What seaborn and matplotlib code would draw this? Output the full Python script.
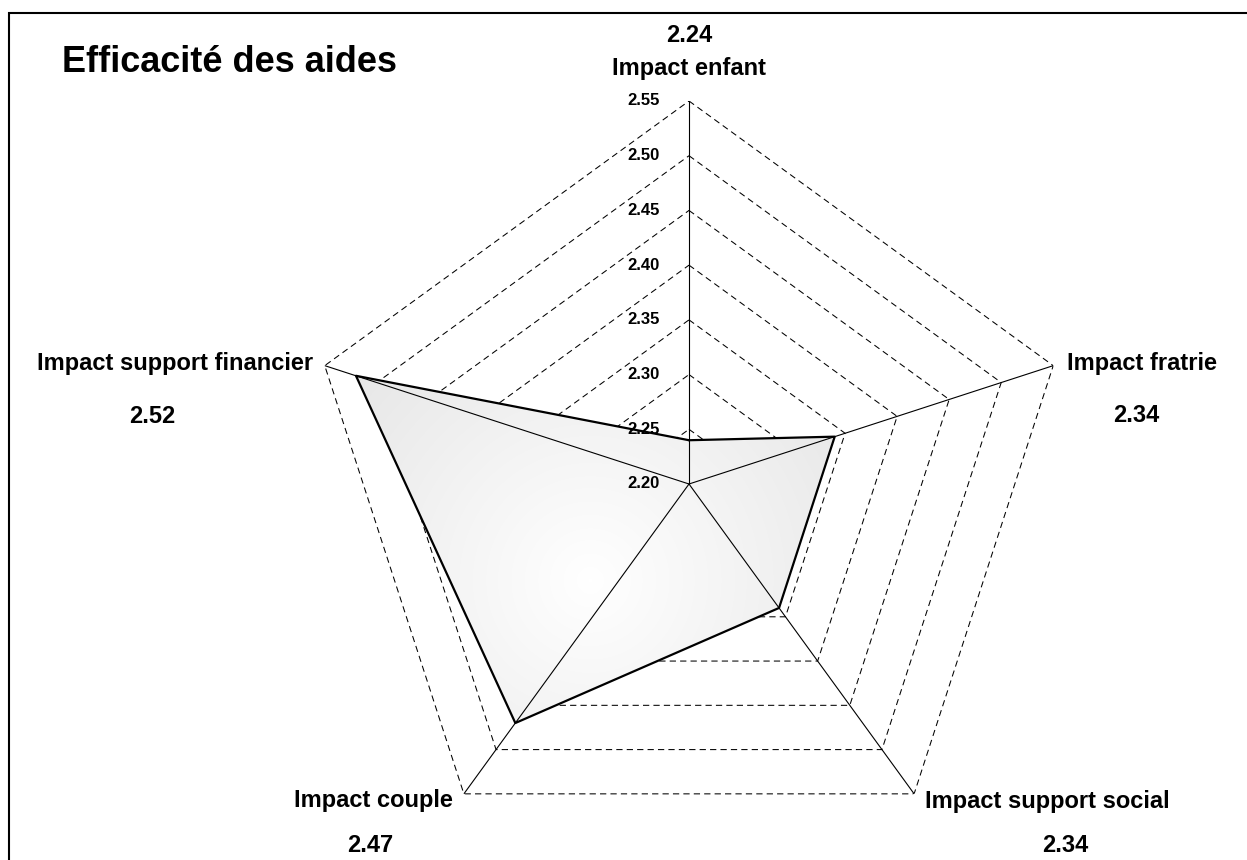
import numpy as np
import matplotlib
matplotlib.use('Agg')
import matplotlib.pyplot as plt
import seaborn as sns
from matplotlib.image import BboxImage
from matplotlib.patches import Rectangle
from matplotlib.colors import LinearSegmentedColormap

sns.set_theme(style='white')
plt.rcParams['font.family'] = ['Liberation Sans', 'DejaVu Sans']
plt.rcParams['text.color'] = 'black'

# data
categories = ['Impact enfant', 'Impact fratrie', 'Impact support social',
              'Impact couple', 'Impact support financier']
values = [2.24, 2.34, 2.34, 2.47, 2.52]
value_labels = ['2.24', '2.34', '2.34', '2.47', '2.52']
grid_levels = [2.25, 2.30, 2.35, 2.40, 2.45, 2.50, 2.55]
tick_levels = [2.20, 2.25, 2.30, 2.35, 2.40, 2.45, 2.50, 2.55]
r_min, r_max = 2.20, 2.55

W, H = 1247, 860
fig = plt.figure(figsize=(W / 100, H / 100), dpi=100)
fig.patch.set_facecolor('white')

# polar axes placed so the web centre sits where it does in the picture
cx, cy, rad = 689, 484, 383
ax = fig.add_axes([(cx - rad) / W, (H - cy - rad) / H, 2 * rad / W, 2 * rad / H],
                  projection='polar')
ax.set_theta_offset(np.pi / 2)
ax.set_theta_direction(-1)
ax.set_ylim(r_min, r_max)
ax.grid(False)
ax.set_xticks([])
ax.set_yticks([])
ax.spines['polar'].set_visible(False)
ax.patch.set_visible(False)

theta = np.arange(len(categories)) * 2 * np.pi / len(categories)
theta_closed = np.append(theta, theta[0])

# dashed pentagon grid
for lv in grid_levels:
    ax.plot(theta_closed, [lv] * len(theta_closed), color='black', lw=0.75,
            ls=(0, (6, 4)), zorder=1)

# filled area with a soft radial gradient
vals_closed = np.append(values, values[0])
poly = ax.fill(theta_closed, vals_closed, facecolor='none', edgecolor='none', zorder=2)[0]
yy, xx = np.mgrid[0:H, 0:W]
dist = np.sqrt((xx - 590) ** 2 + (yy - 580) ** 2) / 430
grad_cmap = LinearSegmentedColormap.from_list('grad', ['#ffffff', '#dedede'])
im = BboxImage(fig.bbox, cmap=grad_cmap, norm=plt.Normalize(0, 1), zorder=2)
im.set_data(np.clip(dist, 0, 1))
ax.add_artist(im)
im.set_clip_path(poly)

# spokes
for t in theta:
    ax.plot([t, t], [r_min, r_max], color='black', lw=0.8, zorder=3)

# outline of the series
sns.lineplot(x=theta_closed, y=vals_closed, sort=False, estimator=None, ax=ax,
             color='black', lw=1.6, zorder=4)
ax.set_xlabel('')
ax.set_ylabel('')

# radial scale labels
for lv in tick_levels:
    ax.annotate(f'{lv:.2f}', xy=(0, lv), xytext=(-45 * 0.72, 0),
                textcoords='offset points', ha='center', va='center',
                fontsize=12, fontweight='bold', zorder=5)

# category names and values (offsets in pixels from each outer vertex)
label_pos = [((0, 26), 'center'), ((14, -4), 'left'), ((11, -14), 'left'),
             ((-11, -13), 'right'), ((-12, -4), 'right')]
value_pos = [(0, 59), (83, -56), (151, -58), (-94, -58), (-172, -57)]
for i, name in enumerate(categories):
    (dx, dy), ha = label_pos[i]
    ax.annotate(name, xy=(theta[i], r_max), xytext=(dx * 0.72, dy * 0.72),
                textcoords='offset points', ha=ha, va='baseline',
                fontsize=17, fontweight='bold', annotation_clip=False)
    vx, vy = value_pos[i]
    ax.annotate(value_labels[i], xy=(theta[i], r_max), xytext=(vx * 0.72, vy * 0.72),
                textcoords='offset points', ha='center', va='baseline',
                fontsize=17, fontweight='bold', annotation_clip=False)

fig.text(229 / W, 1 - 72 / H, 'Efficacité des aides', ha='center', va='baseline',
         fontsize=26, fontweight='bold')

# chart frame (only top and left edges fall inside the picture)
fig.patches.append(Rectangle((8.5 / W, -0.1), 1.2, (H - 12.5) / H + 0.1,
                             transform=fig.transFigure, fill=False,
                             edgecolor='black', lw=1.5))

fig.savefig('out.png', dpi=100)
